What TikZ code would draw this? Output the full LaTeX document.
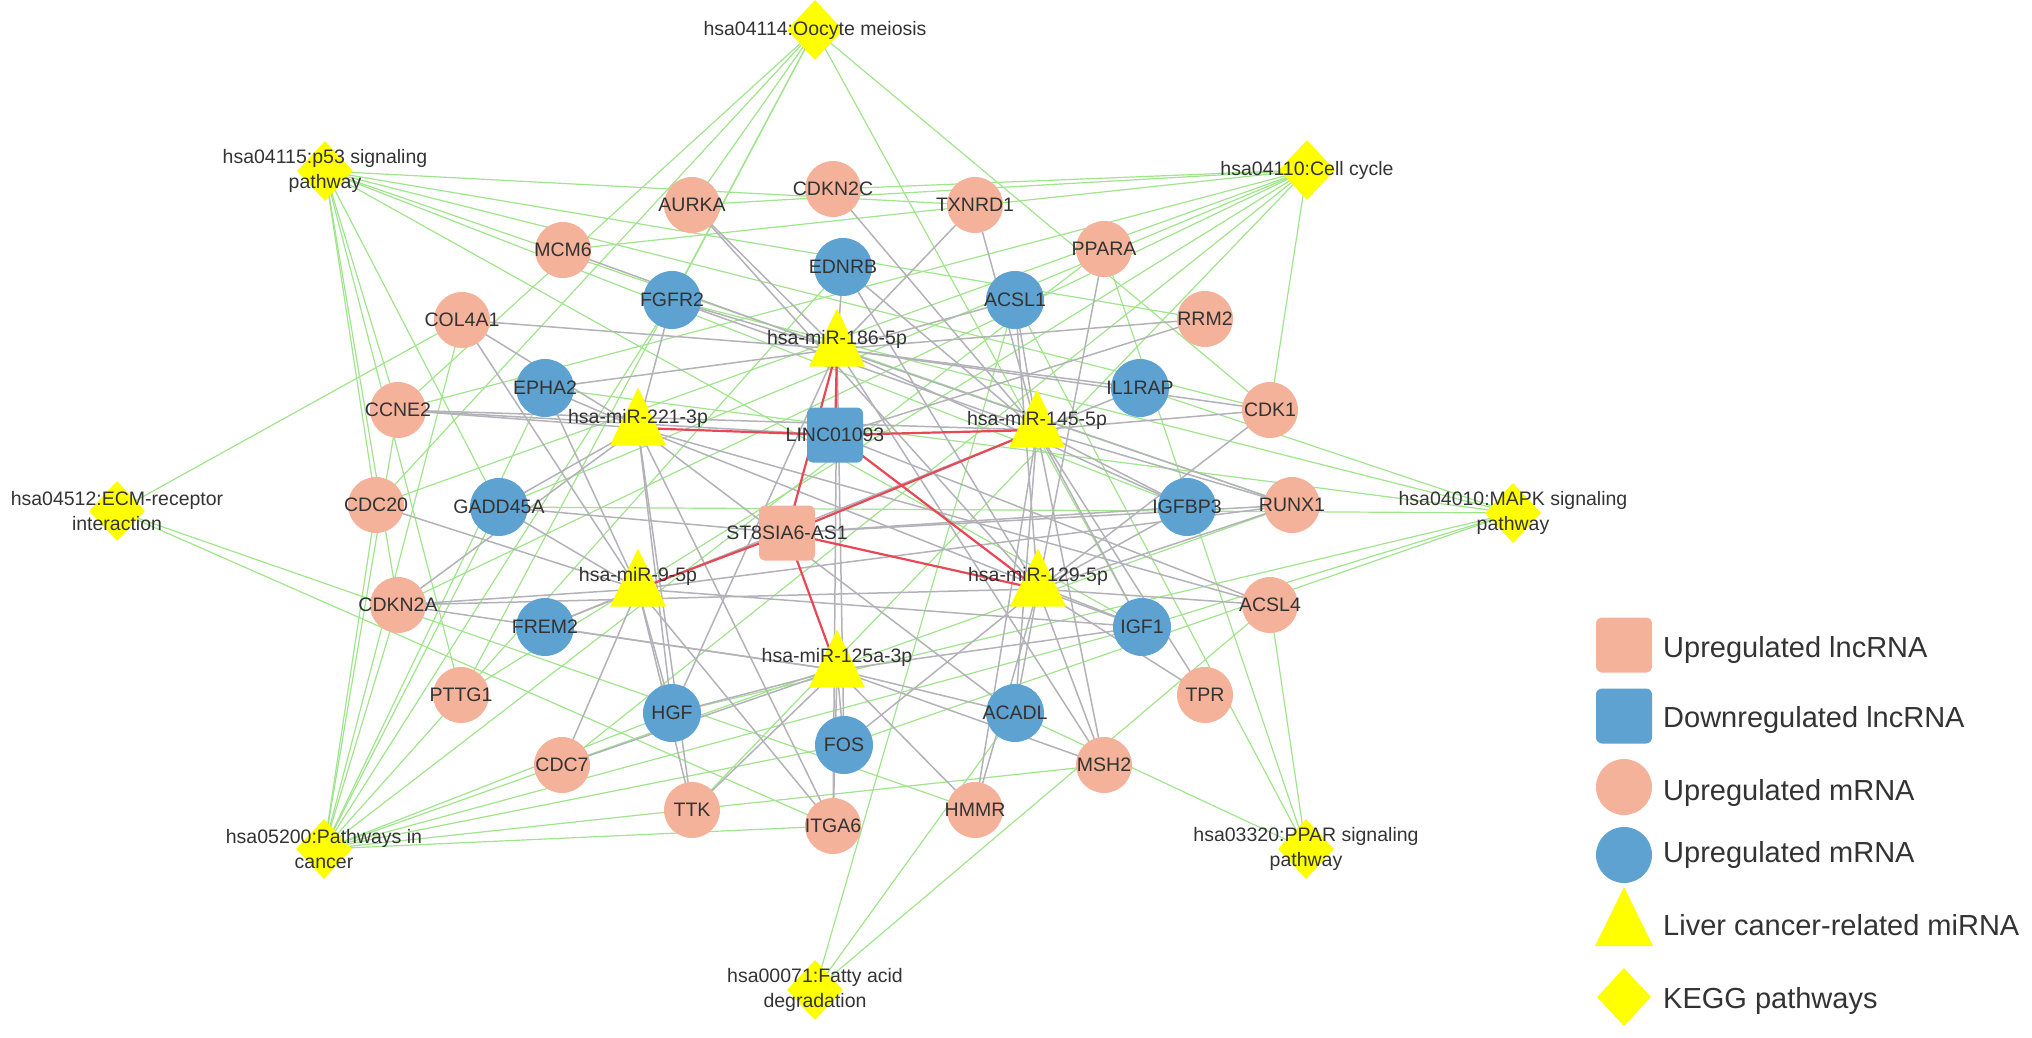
\documentclass[tikz,border=0pt]{standalone}
\usepackage{fontspec}
\setmainfont{Liberation Sans}
\usetikzlibrary{shapes.geometric}
\pgfdeclarelayer{bg}
\pgfsetlayers{bg,main}
\definecolor{salmon}{RGB}{245,178,155}
\definecolor{nblue}{RGB}{93,162,208}
\definecolor{kyellow}{RGB}{255,255,0}
\definecolor{gline}{RGB}{160,228,140}
\definecolor{grline}{RGB}{178,178,184}
\definecolor{rline}{RGB}{232,72,85}
\definecolor{txt}{RGB}{51,51,51}
\begin{document}
\begin{tikzpicture}[x=1pt,y=-1pt,
  lab/.style={font=\fontsize{19.5}{25}\selectfont, text=txt, align=center, inner sep=0pt},
  legt/.style={font=\fontsize{29}{33}\selectfont, text=txt, anchor=base west, inner sep=0pt},
  upm/.style={circle, fill=salmon, minimum size=56pt, inner sep=0pt},
  dnm/.style={circle, fill=nblue, minimum size=58pt, inner sep=0pt},
  mir/.style={isosceles triangle, isosceles triangle stretches, shape border rotate=90, fill=kyellow, minimum width=56pt, minimum height=58pt, inner sep=0pt, yshift=-10pt},
  kegg/.style={diamond, fill=kyellow, minimum width=56pt, minimum height=60pt, inner sep=0pt},
  lncup/.style={rectangle, rounded corners=6pt, fill=salmon, minimum width=56pt, minimum height=55pt, inner sep=0pt},
  lncdn/.style={rectangle, rounded corners=6pt, fill=nblue, minimum width=56pt, minimum height=55pt, inner sep=0pt},
  gedge/.style={draw=gline, line width=1.2pt},
  yedge/.style={draw=grline, line width=1.5pt},
  redge/.style={draw=rline, line width=2.2pt}]
\useasboundingbox (0,0) rectangle (2032,1038);

% upregulated mRNA
\foreach \n/\x/\y in {AURKA/692/205, CDKN2C/833/189, TXNRD1/975/205, MCM6/563/250,
  PPARA/1104/249, COL4A1/462/320, RRM2/1205/319, CCNE2/398/410, CDK1/1270/410,
  CDC20/376/505, RUNX1/1292/505, CDKN2A/398/605, ACSL4/1270/605, PTTG1/461/695,
  TPR/1205/695, CDC7/562/765, MSH2/1104/765, TTK/692/810, ITGA6/833/826, HMMR/975/810}
  \node[upm] (\n) at (\x,\y) {};
% downregulated mRNA
\foreach \n/\x/\y in {EDNRB/843/267, FGFR2/672/300, ACSL1/1015/300, EPHA2/545/388,
  IL1RAP/1140/388, GADD45A/499/507, IGFBP3/1187/507, FREM2/545/627, IGF1/1142/627,
  HGF/672/713, ACADL/1015/713, FOS/844/745}
  \node[dnm] (\n) at (\x,\y) {};
% miRNAs
\node[mir] (m186) at (837,339) {};
\node[mir] (m221) at (638,418) {};
\node[mir] (m145) at (1037,420) {};
\node[mir] (m9) at (638,579) {};
\node[mir] (m129) at (1038,579) {};
\node[mir] (m125) at (837,660) {};
% lncRNAs
\node[lncdn] (linc) at (835,435) {};
\node[lncup] (st8) at (787,533) {};
% KEGG
\node[kegg] (kOoc) at (815,30) {};
\node[kegg] (kP53) at (325,171) {};
\node[kegg] (kCC) at (1307,170) {};
\node[kegg] (kECM) at (117,511) {};
\node[kegg] (kMAPK) at (1513,513) {};
\node[kegg] (kPIC) at (324,849) {};
\node[kegg] (kPPAR) at (1306,849) {};
\node[kegg] (kFAD) at (815,990) {};

\begin{pgfonlayer}{bg}
% KEGG - mRNA (green)
\foreach \k/\g in {kOoc/AURKA, kOoc/CCNE2, kOoc/CDC20, kOoc/PTTG1, kOoc/CDK1, kOoc/IGF1, kOoc/FGFR2,
  kP53/CCNE2, kP53/CDKN2A, kP53/GADD45A, kP53/CDK1, kP53/RRM2, kP53/IGFBP3, kP53/IGF1, kP53/CDC20, kP53/PTTG1,
  kP53/TXNRD1, kP53/RUNX1,
  kCC/CDKN2C, kCC/CDKN2A, kCC/CCNE2, kCC/CDC20, kCC/CDC7, kCC/CDK1, kCC/MCM6, kCC/PTTG1, kCC/GADD45A, kCC/TTK, kCC/AURKA,
  kECM/COL4A1, kECM/ITGA6, kECM/HMMR,
  kMAPK/FGFR2, kMAPK/EPHA2, kMAPK/IL1RAP, kMAPK/GADD45A, kMAPK/HGF, kMAPK/FOS, kMAPK/IGF1,
  kPIC/FGFR2, kPIC/HGF, kPIC/IGF1, kPIC/FOS, kPIC/CDKN2A, kPIC/CCNE2, kPIC/COL4A1, kPIC/ITGA6,
  kPIC/MSH2, kPIC/EDNRB, kPIC/RUNX1, kPIC/GADD45A, kPIC/PPARA, kPIC/CDC20, kPIC/EPHA2,
  kPPAR/ACSL1, kPPAR/ACSL4, kPPAR/ACADL, kPPAR/PPARA,
  kFAD/ACSL1, kFAD/ACSL4, kFAD/ACADL}
  \draw[gedge] (\k.center) -- (\g.center);
% miRNA - mRNA (grey)
\foreach \m/\g in {m186/COL4A1, m186/FGFR2, m186/EDNRB, m186/MCM6, m186/TXNRD1, m186/ACSL1, m186/RRM2,
  m186/IL1RAP, m186/CDK1, m186/EPHA2, m186/IGFBP3, m186/HGF, m186/FOS, m186/ITGA6, m186/MSH2, m186/RUNX1, m186/AURKA,
  m221/CCNE2, m221/EPHA2, m221/GADD45A, m221/CDKN2A, m221/FGFR2, m221/TTK, m221/ITGA6, m221/HGF,
  m221/IGF1, m221/ACSL4, m221/ACADL, m221/COL4A1,
  m145/ACSL1, m145/TXNRD1, m145/IL1RAP, m145/CDK1, m145/IGFBP3, m145/RUNX1, m145/IGF1, m145/ACADL,
  m145/MSH2, m145/CCNE2, m145/FGFR2, m145/EDNRB, m145/FREM2, m145/HMMR, m145/TPR, m145/CDKN2C,
  m9/CDKN2A, m9/FREM2, m9/GADD45A, m9/CDC20, m9/HGF, m9/TTK, m9/ITGA6, m9/EPHA2, m9/COL4A1,
  m9/RUNX1, m9/IGF1, m9/CDC7,
  m129/IGF1, m129/ACSL4, m129/TPR, m129/MSH2, m129/ACADL, m129/IGFBP3, m129/RUNX1, m129/CDK1,
  m129/AURKA, m129/ACSL1, m129/HMMR, m129/EDNRB, m129/FOS, m129/PPARA, m129/CDKN2A,
  m125/HGF, m125/FOS, m125/ITGA6, m125/ACADL, m125/TTK, m125/CDC7, m125/MSH2, m125/HMMR,
  m125/FREM2, m125/IGF1, m125/CDKN2A,
  linc/CCNE2, linc/RRM2, linc/ACSL4, st8/RUNX1, st8/IGFBP3, st8/GADD45A}
  \draw[yedge] (\m.center) -- (\g.center);
% lncRNA - miRNA (red)
\foreach \a/\b in {linc/m186, linc/m221, linc/m145, linc/m129,
  st8/m186, st8/m9, st8/m145, st8/m129, st8/m125}
  \draw[redge] (\a.center) -- (\b.center);
\end{pgfonlayer}

% labels
\foreach \n in {AURKA, CDKN2C, TXNRD1, MCM6, PPARA, COL4A1, RRM2, CCNE2, CDK1, CDC20, RUNX1,
  CDKN2A, ACSL4, PTTG1, TPR, CDC7, MSH2, TTK, ITGA6, HMMR, EDNRB, FGFR2, ACSL1, EPHA2,
  IL1RAP, GADD45A, IGFBP3, FREM2, IGF1, HGF, ACADL, FOS}
  \node[lab] (t\n) at (\n) {\n};
\node[lab] (tm186) at (837,339) {hsa-miR-186-5p};
\node[lab] (tm221) at (638,418) {hsa-miR-221-3p};
\node[lab] (tm145) at (1037,420) {hsa-miR-145-5p};
\node[lab] (tm9) at (638,576) {hsa-miR-9-5p};
\node[lab] (tm129) at (1038,576) {hsa-miR-129-5p};
\node[lab] (tm125) at (837,657) {hsa-miR-125a-3p};
\node[lab] (tlinc) at (linc) {LINC01093};
\node[lab] (tst8) at (st8) {ST8SIA6-AS1};
\node[lab] (tkOoc) at (kOoc) {hsa04114:Oocyte meiosis};
\node[lab] (tkP53) at (kP53) {hsa04115:p53 signaling\\pathway};
\node[lab] (tkCC) at (kCC) {hsa04110:Cell cycle};
\node[lab] (tkECM) at (kECM) {hsa04512:ECM-receptor\\interaction};
\node[lab] (tkMAPK) at (kMAPK) {hsa04010:MAPK signaling\\pathway};
\node[lab] (tkPIC) at (kPIC) {hsa05200:Pathways in\\cancer};
\node[lab] (tkPPAR) at (kPPAR) {hsa03320:PPAR signaling\\pathway};
\node[lab] (tkFAD) at (kFAD) {hsa00071:Fatty acid\\degradation};

% legend
\node[lncup] (lg1) at (1624,645) {};
\node[lncdn] (lg2) at (1624,716) {};
\node[upm] (lg3) at (1624,787) {};
\node[dnm, minimum size=56pt] (lg4) at (1624,855) {};
\node[mir, minimum width=58pt, minimum height=59pt] (lg5) at (1624,918) {};
\node[kegg, minimum width=54pt, minimum height=58pt] (lg6) at (1624,997) {};
\node[legt] (lt1) at (1663,657) {Upregulated lncRNA};
\node[legt] (lt2) at (1663,727) {Downregulated lncRNA};
\node[legt] (lt3) at (1663,800) {Upregulated mRNA};
\node[legt] (lt4) at (1663,862) {Upregulated mRNA};
\node[legt] (lt5) at (1663,935) {Liver cancer-related miRNA};
\node[legt] (lt6) at (1663,1008) {KEGG pathways};
\end{tikzpicture}
\end{document}
